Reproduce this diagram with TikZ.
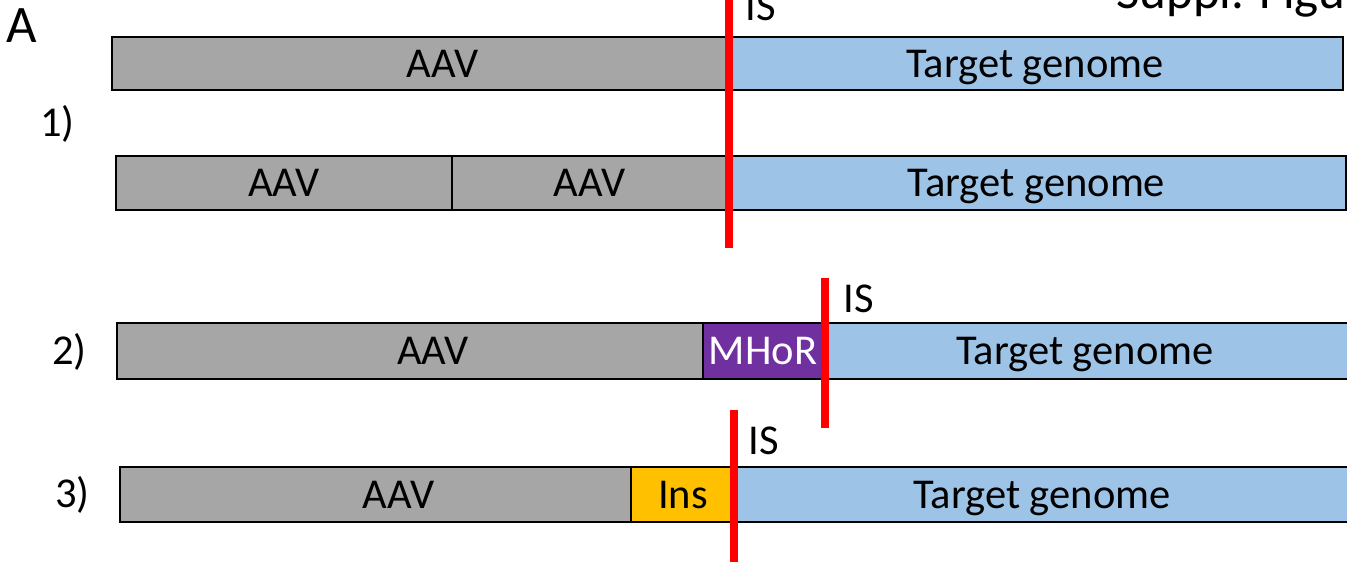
\documentclass[tikz,border=0pt]{standalone}
\usepackage{fontspec}
\setmainfont{Carlito}
\definecolor{aavgray}{HTML}{A6A6A6}
\definecolor{genblue}{HTML}{9DC3E6}
\definecolor{mhorpurple}{HTML}{7030A0}
\definecolor{insyellow}{HTML}{FFC000}
\definecolor{cutred}{HTML}{FF0000}
\newcommand{\barfont}{\fontsize{24.2}{29}\selectfont}
\tikzset{
  seg/.style={draw=black, line width=1.5pt, rectangle, inner sep=0pt, outer sep=0pt,
              font=\barfont, text height=15.5pt, text depth=0pt},
  aav/.style={seg, fill=aavgray},
  genome/.style={seg, fill=genblue},
  mhor/.style={seg, fill=mhorpurple, text=white},
  ins/.style={seg, fill=insyellow},
  inlabel/.style={font=\barfont, text height=15.5pt, text depth=0pt, inner sep=0pt},
  cut/.style={draw=cutred, line width=4pt},
  lbl/.style={anchor=base west, inner sep=0pt, font=\barfont},
}
\begin{document}
\begin{tikzpicture}[x=0.02cm, y=-0.02cm]
\useasboundingbox (0,0) rectangle (1347,564);
\clip (0,0) rectangle (1347,564);

% panel letter and header
\node[lbl, font=\fontsize{30}{36}\selectfont] (panel) at (6,43) {A};
\node[lbl, font=\fontsize{29}{34}\selectfont] (hdr) at (1116,9) {Suppl. Figure};

% case 1: direct junction
\node[lbl] (n1) at (40,137) {1)};
\node[aav, minimum width=12.3cm, minimum height=1.06cm,
      label={[xshift=0.46cm, inlabel]center:AAV}] (a1) at (419.5,63.5) {};
\node[genome, minimum width=12.32cm, minimum height=1.06cm] (g1) at (1035,63.5) {Target genome};

\node[aav, minimum width=6.72cm, minimum height=1.08cm] (b1) at (284,183) {AAV};
\node[aav, minimum width=5.5cm, minimum height=1.08cm] (b2) at (589.5,183) {AAV};
\node[genome, minimum width=12.38cm, minimum height=1.08cm] (g2) at (1036.5,183) {Target genome};

\coordinate (c1t) at (729,-5);
\coordinate (c1b) at (729,248);
\draw[cut] (c1t) -- (c1b);
\node[lbl] (is1) at (745,21) {IS};

% case 2: microhomology at the junction
\node[lbl] (n2) at (52,365) {2)};
\node[aav, minimum width=11.72cm, minimum height=1.12cm,
      label={[xshift=0.46cm, inlabel]center:AAV}] (a2) at (410,351) {};
\node[mhor, minimum width=2.4cm, minimum height=1.12cm] (m2) at (763,351) {MHoR};
\node[genome, minimum width=10.52cm, minimum height=1.12cm,
      label={[xshift=-0.02cm, inlabel]center:Target genome}] (g3) at (1086,351) {};

\coordinate (c2t) at (825,278);
\coordinate (c2b) at (825,428);
\draw[cut] (c2t) -- (c2b);
\node[lbl] (is2) at (843,313) {IS};

% case 3: insertion at the junction
\node[lbl] (n3) at (55,508) {3)};
\node[aav, minimum width=10.22cm, minimum height=1.1cm,
      label={[xshift=0.46cm, inlabel]center:AAV}] (a3) at (375.5,494.5) {};
\node[ins, minimum width=2.08cm, minimum height=1.1cm] (i3) at (683,494.5) {Ins};
\node[genome, minimum width=12.28cm, minimum height=1.1cm] (g4) at (1042,494.5) {Target genome};

\coordinate (c3t) at (734,410);
\coordinate (c3b) at (734,562);
\draw[cut] (c3t) -- (c3b);
\node[lbl] (is3) at (748,455) {IS};
\end{tikzpicture}
\end{document}
